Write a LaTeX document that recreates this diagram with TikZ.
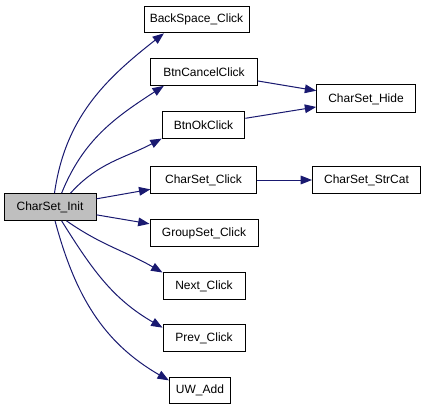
\documentclass[tikz,border=0pt]{standalone}
\usepackage{fontspec}
\setmainfont{Liberation Sans}
\usepackage{tikz}
\usetikzlibrary{positioning,calc,arrows.meta}

\definecolor{edgeblue}{HTML}{191970}
\definecolor{rootgray}{HTML}{BFBFBF}

\begin{document}
\begin{tikzpicture}[x=0.75pt, y=-0.75pt,
    fn/.style={draw=black, line width=0.75pt, fill=white, minimum height=20pt,
      inner sep=0pt, font=\fontsize{9pt}{10pt}\selectfont},
    call/.style={draw=edgeblue, line width=0.75pt,
      -{Triangle[length=8.5pt,width=6.5pt]}}]
    \useasboundingbox (0,0) rectangle (427,413);

      % Root
      \node[fn, fill=rootgray, minimum width=69pt] (init) at (50, 207) {CharSet\_Init};

      % Callees
      \node[fn, minimum width=78.75pt] (backspace) at (196.5, 19.5) {BackSpace\_Click};
      \node[fn, minimum width=80pt] (cancel) at (204, 72) {BtnCancelClick};
      \node[fn, minimum width=62pt] (ok) at (203.5, 125) {BtnOkClick};
      \node[fn, minimum width=79pt] (click) at (203.5, 180) {CharSet\_Click};
      \node[fn, minimum width=81pt] (groupset) at (204, 233) {GroupSet\_Click};
      \node[fn, minimum width=61.5pt] (next) at (204, 286) {Next\_Click};
      \node[fn, minimum width=61.5pt] (prev) at (204, 338) {Prev\_Click};
      \node[fn, minimum width=46pt] (uwadd) at (200, 390.5) {UW\_Add};

      % Second level
      \node[fn, minimum width=74pt, minimum height=21pt] (hide) at (366, 99) {CharSet\_Hide};
      \node[fn, minimum width=81pt] (strcat) at (366.5, 180) {CharSet\_StrCat};

      % Calls from CharSet_Init
      \draw[call] (init.72) to[out=82, in=218] (backspace.203);
      \draw[call] (init.50) to[out=68, in=213] (cancel.199);
      \draw[call] (init.34) to[out=48, in=208] (ok.198);
      \draw[call] (init) -- (click);
      \draw[call] (init) -- (groupset);
      \draw[call] (init.-40) to[out=-35, in=150] (next.162);
      \draw[call] (init.-50) to[out=-58, in=150] (prev.166);
      \draw[call] (init.-70) to[out=-75, in=150] (uwadd.162);

      % Second level calls
      \draw[call] (cancel) -- (hide);
      \draw[call] (ok) -- (hide);
      \draw[call] (click) -- (strcat);
  \end{tikzpicture}
\end{document}
